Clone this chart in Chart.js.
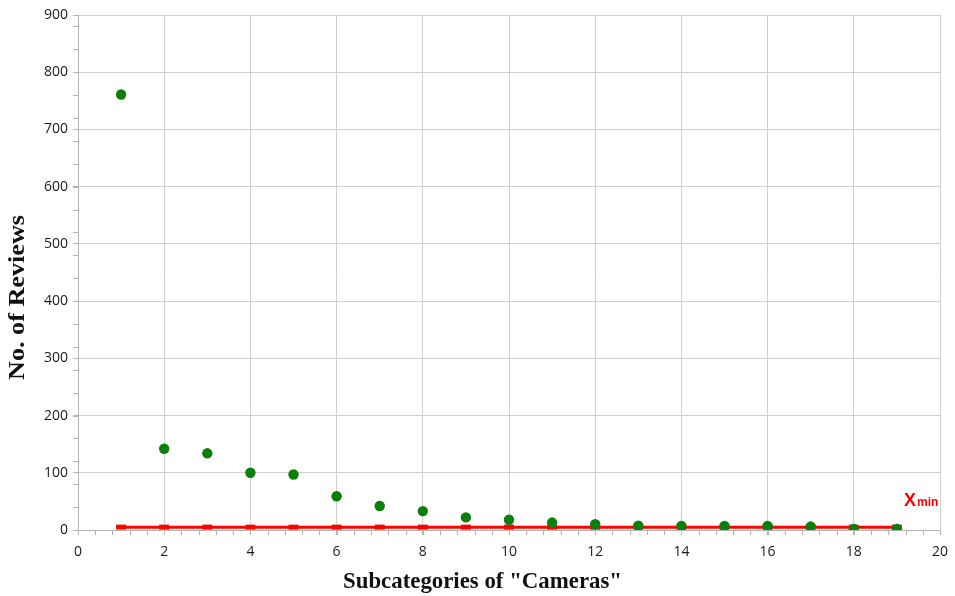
<!DOCTYPE html>
<html>
<head>
<meta charset="utf-8">
<script src="https://cdn.jsdelivr.net/npm/chart.js@4.4.1/dist/chart.umd.min.js"></script>
<style>
  html, body { margin: 0; padding: 0; background: #ffffff; }
  #wrap { width: 955px; height: 596px; position: relative; }
</style>
</head>
<body>
<div id="wrap"><canvas id="reviewChart"></canvas></div>
<script>
/* ================= DATA ================= */

const subcategories = [1, 2, 3, 4, 5, 6, 7, 8, 9, 10, 11, 12, 13, 14, 15, 16, 17, 18, 19];
const reviews = [761, 142, 134, 100, 97, 59, 42, 33, 22, 18, 13, 10, 7.5, 7, 7, 7, 6, 2, 2];
const xminValue = 5;
const xTicks = [0, 2, 4, 6, 8, 10, 12, 14, 16, 18, 20];
const yTicks = [0, 100, 200, 300, 400, 500, 600, 700, 800, 900];

const xTitle = "Subcategories of \"Cameras\"";
const yTitle = "No. of Reviews";

/* ================= MINOR TICKS, TITLES, LABEL ================= */

const extras = {
    id: "extras",
    afterDraw(chart) {
        const ctx = chart.ctx;
        const x = chart.scales.x;
        const y = chart.scales.y;
        const area = chart.chartArea;

        ctx.save();
        ctx.strokeStyle = "#b4b4b4";
        ctx.lineWidth = 1;
        ctx.beginPath();
        for (let v = 0.4; v < 20; v += 0.4) {
            const px = Math.round(x.getPixelForValue(v)) + 0.5;
            ctx.moveTo(px, area.bottom);
            ctx.lineTo(px, area.bottom + 5);
        }
        for (let v = 40; v < 900; v += 40) {
            const py = Math.round(y.getPixelForValue(v)) + 0.5;
            ctx.moveTo(area.left - 5, py);
            ctx.lineTo(area.left, py);
        }
        ctx.stroke();

        // axis titles
        const serif = "'Liberation Serif', 'Times New Roman', serif";
        ctx.fillStyle = "#111111";
        ctx.textBaseline = "alphabetic";
        ctx.textAlign = "left";
        ctx.font = "bold 23px " + serif;
        const xw = ctx.measureText(xTitle).width;
        ctx.save();
        ctx.translate(343, 588);
        ctx.scale(279 / xw, 1);
        ctx.fillText(xTitle, 0, 0);
        ctx.restore();

        const yw = ctx.measureText(yTitle).width;
        ctx.save();
        ctx.translate(24, 380);
        ctx.rotate(-Math.PI / 2);
        ctx.scale(165 / yw, 1);
        ctx.fillText(yTitle, 0, 0);
        ctx.restore();

        // x_min label
        ctx.fillStyle = "#ff0000";
        ctx.font = "bold 18px 'Liberation Sans', Arial, sans-serif";
        ctx.fillText("X", 904, 506);
        ctx.font = "bold 12px 'Liberation Sans', Arial, sans-serif";
        ctx.fillText("min", 917, 506);
        ctx.restore();
    }
};

/* ================= CHART ================= */

new Chart(document.getElementById("reviewChart"), {

    type: "scatter",

    data: {
        datasets: [
            {
                label: "xmin",
                data: subcategories.map(c => ({ x: c, y: xminValue })),
                showLine: true,
                borderColor: "#ff0000",
                borderWidth: 3,
                pointStyle: "line",
                pointRadius: 5,
                pointBorderWidth: 5,
                pointBorderColor: "#ff0000",
                pointBackgroundColor: "#ff0000",
                order: 2
            },
            {
                label: "Reviews",
                data: subcategories.map((c, i) => ({ x: c, y: reviews[i] })),
                pointRadius: 5.2,
                pointBackgroundColor: "#0a800a",
                pointBorderColor: "#0a800a",
                pointBorderWidth: 0,
                order: 1
            }
        ]
    },

    plugins: [extras],

    options: {
        responsive: true,
        maintainAspectRatio: false,
        animation: false,
        layout: {
            padding: { top: 15, right: 15, left: 0, bottom: 0 }
        },

        plugins: {
            legend: { display: false },
            tooltip: { enabled: false }
        },

        scales: {
            x: {
                type: "linear",
                min: 0,
                max: 20,
                afterBuildTicks: s => { s.ticks = xTicks.map(v => ({ value: v })); },
                afterFit: s => { s.height = 66; s.paddingRight = 0; s.paddingLeft = 0; },
                border: { color: "#b4b4b4" },
                grid: { color: "#cfcfcf", tickLength: 5, tickColor: "#b4b4b4" },
                ticks: {
                    color: "#1a1a1a",
                    padding: 9,
                    font: { family: "'Open Sans', sans-serif", size: 14 }
                }
            },
            y: {
                min: 0,
                max: 900,
                afterBuildTicks: s => { s.ticks = yTicks.map(v => ({ value: v })); },
                afterFit: s => { s.width = 78; },
                border: { color: "#b4b4b4" },
                grid: { color: "#cfcfcf", tickLength: 5, tickColor: "#b4b4b4" },
                ticks: {
                    color: "#1a1a1a",
                    padding: 5,
                    font: { family: "'Open Sans', sans-serif", size: 14 }
                }
            }
        }
    }

});
</script>
</body>
</html>
